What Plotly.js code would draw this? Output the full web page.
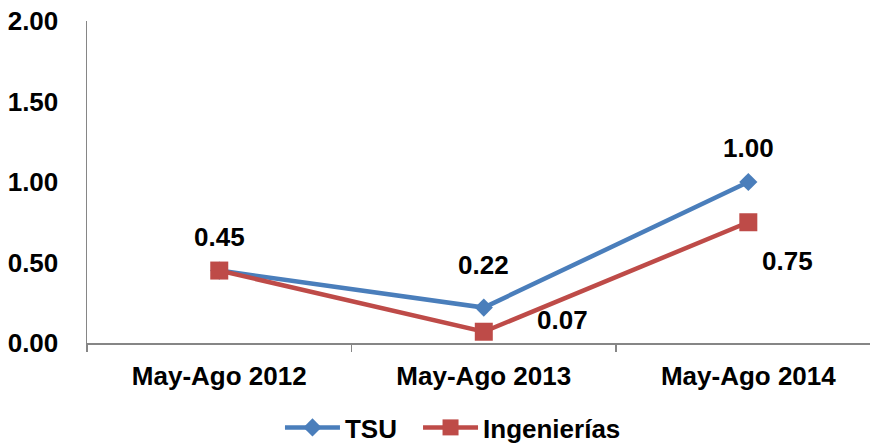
<!DOCTYPE html>
<html>
<head>
<meta charset="utf-8">
<script src="https://cdn.plot.ly/plotly-3.0.1.min.js"></script>
<style>html,body{margin:0;padding:0;background:#fff;}#chart{width:870px;height:443px;}</style>
</head>
<body>
<div id="chart"></div>
<script>
var categories = ["May-Ago 2012", "May-Ago 2013", "May-Ago 2014"];
var tsuValues = [0.45, 0.22, 1.00];
var ingValues = [0.45, 0.07, 0.75];
var tsuLabels = ["0.45", "0.22", "1.00"];
var ingLabels = ["", "0.07", "0.75"];
var yTickVals = [0, 0.5, 1, 1.5, 2];
var yTickText = ["0.00", "0.50", "1.00", "1.50", "2.00"];

var FONT = "Liberation Sans, Arial, sans-serif";
var FS = 26;

var traces = [
  {
    x: categories, y: tsuValues, name: "TSU", type: "scatter", mode: "lines+markers",
    line: {color: "#4A7EBB", width: 4.5},
    marker: {symbol: "diamond", size: 14, color: "#4A7EBB"},
    legend: "legend"
  },
  {
    x: categories, y: ingValues, name: "Ingenierías", type: "scatter", mode: "lines+markers",
    line: {color: "#BE4B48", width: 4.5},
    marker: {symbol: "square", size: 18, color: "#BE4B48"},
    legend: "legend2"
  }
];

var annotations = [];
var tsuShift = [[0, 34], [0, 43], [0, 34]];
var ingShift = [[0, 0], [79, 12], [39, -39]];
for (var i = 0; i < categories.length; i++) {
  if (tsuLabels[i]) annotations.push({
    x: categories[i], y: tsuValues[i], xref: "x", yref: "y", text: tsuLabels[i],
    showarrow: false, xshift: tsuShift[i][0], yshift: tsuShift[i][1],
    font: {family: FONT, size: FS, color: "#000", weight: "bold"}
  });
  if (ingLabels[i]) annotations.push({
    x: categories[i], y: ingValues[i], xref: "x", yref: "y", text: ingLabels[i],
    showarrow: false, xshift: ingShift[i][0], yshift: ingShift[i][1],
    font: {family: FONT, size: FS, color: "#000", weight: "bold"}
  });
}

function legendCfg(xl) {
  return {
    orientation: "h", xref: "container", yref: "container",
    x: xl, xanchor: "left", y: 0.035, yanchor: "middle",
    font: {family: FONT, size: FS, color: "#000", weight: "bold"},
    itemwidth: 55, bgcolor: "rgba(0,0,0,0)"
  };
}

var layout = {
  width: 870, height: 443,
  margin: {l: 87, r: 0, t: 21, b: 100},
  paper_bgcolor: "#fff", plot_bgcolor: "#fff",
  font: {family: FONT, size: FS, color: "#000", weight: "bold"},
  showlegend: true,
  legend: legendCfg(0.3218),
  legend2: legendCfg(0.4805),
  xaxis: {
    type: "category", range: [-0.5, 2.46],
    showline: true, linecolor: "#868686", linewidth: 1.5,
    ticks: "outside", tickson: "boundaries", ticklen: 7, tickcolor: "#868686", tickwidth: 1.5,
    showgrid: false, zeroline: false,
    ticklabelstandoff: 9,
    tickfont: {family: FONT, size: FS, color: "#000", weight: "bold"}
  },
  yaxis: {
    range: [0, 2], tickvals: yTickVals, ticktext: yTickText,
    showline: true, linecolor: "#868686", linewidth: 1.5,
    ticks: "", showgrid: false, zeroline: false,
    ticklabelstandoff: 22,
    tickfont: {family: FONT, size: FS, color: "#000", weight: "bold"}
  },
  annotations: annotations
};

Plotly.newPlot("chart", traces, layout, {displayModeBar: false, staticPlot: true});
</script>
</body>
</html>
